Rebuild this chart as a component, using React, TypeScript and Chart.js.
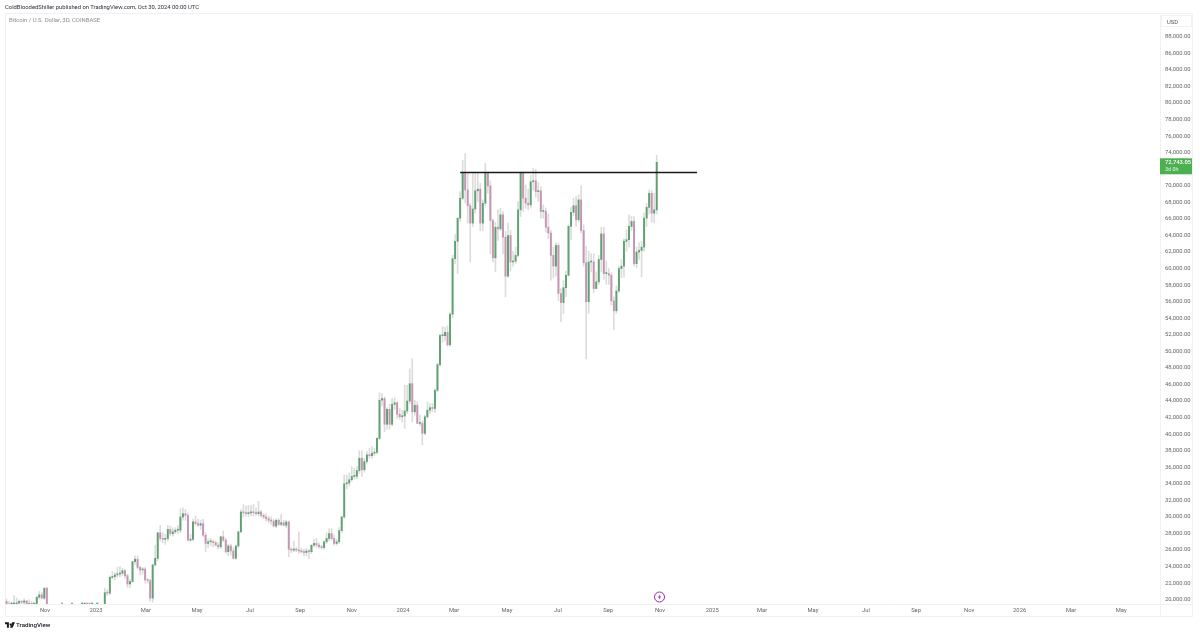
import React, { useEffect, useRef } from "react";
import { Chart, registerables } from "chart.js";

Chart.register(...registerables);

// 3D candles, prices in thousands of USD
const opens = [
  19.4, 19.7, 19.4, 19.2, 19.3, 19.4, 19.5, 19.7, 19.6, 19.75,
  19.3, 19.45, 19.2, 19.3, 20.2, 20.5, 20.1, 21.3, 18.2, 16.8,
  16.6, 16.4, 16.2, 16.5, 16.4, 17.1, 16.9, 17.2, 17.1, 17.8,
  17.3, 16.7, 16.8, 16.8, 16.7, 16.6, 16.6, 16.9, 17.0, 17.9,
  19.0, 20.75, 20.7, 22.6, 22.7, 22.9, 23.0, 23.1, 23.4, 22.8,
  21.8, 22.1, 24.5, 24.8, 23.8, 23.5, 23.6, 22.3, 22.2, 20.1,
  24.1, 24.9, 28.0, 27.3, 27.2, 27.3, 28.4, 27.9, 28.1, 28.3,
  28.3, 29.9, 30.3, 30.1, 27.1, 27.2, 29.3, 29.1, 28.9, 29.1,
  27.7, 26.7, 26.9, 26.9, 26.8, 26.5, 26.3, 27.5, 27.1, 25.7,
  26.4, 25.8, 24.9, 26.4, 28.1, 30.5, 30.4, 30.3, 30.4, 30.5,
  30.4, 30.3, 30.5, 30.1, 29.9, 29.7, 29.5, 29.4, 28.8, 29.5,
  29.0, 29.2, 28.9, 29.3, 26.0, 25.9, 26.0, 25.9, 25.8, 25.7,
  25.6, 25.8, 25.7, 26.5, 26.7, 26.5, 26.3, 26.2, 26.9, 27.3,
  27.9, 27.3, 26.7, 26.9, 28.25, 29.9, 33.9, 34.0, 34.4, 34.8,
  34.8, 35.5, 37.0, 35.6, 36.6, 37.4, 37.3, 37.6, 37.7, 39.4,
  44.0, 44.2, 41.1, 42.9, 41.1, 43.5, 43.7, 42.3, 42.0, 42.1,
  42.7, 43.9, 46.0, 42.6, 43.4, 41.2, 41.2, 40.0, 42.0, 42.8,
  43.1, 43.0, 45.2, 48.3, 51.8, 51.8, 52.2, 50.7, 54.4, 61.1,
  63.2, 66.0, 68.4, 71.4, 69.4, 67.5, 65.4, 67.1, 69.3, 69.5,
  65.4, 67.8, 71.4, 69.9, 65.7, 61.2, 64.9, 64.7, 66.4, 63.7,
  59.0, 63.9, 60.7, 60.8, 61.5, 67.0, 71.4, 68.4, 67.8, 67.6,
  70.4, 70.5, 69.2, 69.3, 66.8, 66.8, 64.9, 64.2, 61.5, 60.2,
  62.7, 56.9, 55.8, 57.6, 59.1, 65.0, 66.7, 67.5, 65.8, 68.2,
  64.5, 60.6, 55.9, 60.7, 60.7, 57.5, 58.3, 61.0, 64.1, 59.3,
  59.3, 59.1, 56.0, 54.8, 57.2, 59.9, 60.2, 63.2, 63.4, 65.0,
  65.6, 60.5, 61.9, 62.1, 62.5, 66.0, 67.3, 69.0, 66.6, 67.0,
];
const highs = [
  20.2, 20.0, 19.7, 19.6, 20.4, 20.1, 19.9, 19.8, 20.0, 19.8,
  19.9, 19.7, 19.5, 20.3, 20.9, 20.8, 21.3, 21.4, 18.3, 17.1,
  16.8, 16.6, 16.6, 16.7, 17.2, 17.2, 17.4, 17.4, 18.0, 17.9,
  17.5, 17.0, 16.9, 16.9, 16.8, 16.7, 17.0, 17.0, 18.1, 19.2,
  21.3, 21.1, 22.8, 23.3, 23.2, 23.8, 23.9, 23.7, 23.6, 23.0,
  22.4, 24.5, 25.2, 25.2, 24.0, 23.8, 23.8, 22.5, 22.4, 24.2,
  26.5, 28.0, 28.9, 28.0, 27.8, 28.9, 28.8, 28.6, 28.6, 28.9,
  30.9, 31.0, 30.8, 30.4, 27.8, 29.6, 30.0, 29.6, 29.5, 29.6,
  28.0, 27.2, 27.3, 27.1, 27.0, 26.8, 27.6, 28.2, 27.3, 26.6,
  26.6, 26.2, 26.5, 28.2, 30.8, 31.4, 31.2, 31.3, 31.3, 31.4,
  31.0, 31.8, 30.7, 30.3, 30.3, 30.0, 29.9, 29.6, 29.7, 29.7,
  30.2, 29.5, 29.5, 29.4, 26.2, 27.0, 26.2, 28.1, 26.1, 26.0,
  26.1, 26.0, 26.5, 27.2, 27.3, 26.8, 26.5, 27.0, 28.0, 28.5,
  28.5, 27.7, 27.2, 28.6, 30.0, 35.0, 35.0, 35.2, 36.0, 35.8,
  36.0, 37.9, 37.9, 37.0, 37.8, 38.2, 38.4, 38.2, 39.5, 44.9,
  44.8, 44.4, 43.1, 43.5, 44.2, 44.3, 43.8, 43.0, 42.8, 45.8,
  45.8, 47.8, 49.0, 44.0, 43.8, 42.2, 41.5, 42.2, 43.8, 43.6,
  43.6, 45.4, 48.5, 52.0, 52.9, 52.8, 53.0, 54.6, 61.5, 64.0,
  66.0, 69.2, 73.0, 73.8, 71.4, 67.8, 71.4, 71.4, 71.4, 70.2,
  68.2, 72.6, 71.6, 70.5, 65.9, 65.5, 67.0, 67.2, 66.8, 64.4,
  65.4, 64.5, 62.0, 62.5, 68.0, 71.6, 71.6, 70.0, 69.5, 71.2,
  72.0, 71.9, 70.3, 69.8, 67.6, 67.2, 66.5, 64.5, 62.5, 63.0,
  63.0, 57.5, 58.5, 59.6, 65.2, 67.3, 68.4, 68.6, 68.8, 69.9,
  65.2, 62.6, 62.0, 61.7, 61.7, 59.5, 61.5, 64.9, 64.9, 60.8,
  59.9, 59.4, 56.5, 57.8, 60.2, 61.0, 63.5, 64.6, 66.4, 66.2,
  66.2, 62.5, 63.0, 63.2, 66.6, 67.8, 69.4, 69.3, 69.0, 73.6,
];
const lows = [
  19.0, 19.1, 18.9, 18.6, 19.0, 19.2, 19.1, 19.3, 19.2, 19.2,
  19.1, 19.0, 18.9, 19.2, 20.0, 20.0, 19.9, 18.0, 15.9, 16.3,
  16.2, 15.9, 15.6, 16.3, 16.3, 16.8, 16.8, 16.9, 17.0, 17.2,
  16.5, 16.5, 16.7, 16.5, 16.5, 16.5, 16.5, 16.7, 17.0, 17.8,
  18.9, 20.4, 20.5, 22.4, 22.3, 22.6, 22.7, 22.8, 22.5, 21.4,
  21.4, 22.0, 24.2, 23.6, 22.9, 23.0, 21.9, 21.9, 19.7, 19.6,
  24.0, 24.6, 27.0, 26.8, 26.6, 27.0, 27.6, 27.6, 27.9, 27.9,
  28.0, 29.5, 29.5, 27.0, 26.9, 27.0, 28.9, 28.8, 28.4, 27.5,
  25.7, 26.2, 26.4, 26.3, 26.4, 26.0, 26.1, 26.9, 25.5, 25.2,
  25.3, 24.8, 24.8, 26.2, 28.0, 29.9, 30.0, 29.9, 30.0, 30.0,
  30.1, 30.0, 29.9, 29.7, 29.4, 29.2, 29.0, 28.7, 28.6, 28.9,
  28.8, 28.8, 28.6, 25.1, 25.6, 25.7, 25.7, 25.5, 25.5, 25.2,
  25.2, 24.9, 25.5, 26.3, 26.2, 26.1, 26.0, 26.0, 26.7, 27.0,
  27.1, 26.5, 26.5, 26.7, 28.0, 29.7, 33.3, 33.6, 34.2, 34.5,
  34.5, 35.2, 34.8, 35.3, 36.3, 37.0, 37.0, 37.3, 37.5, 39.2,
  43.3, 40.2, 40.5, 40.5, 40.9, 42.9, 41.8, 41.7, 41.4, 40.6,
  42.4, 43.6, 41.4, 42.2, 41.2, 40.9, 38.6, 39.8, 41.8, 42.4,
  42.6, 42.5, 45.0, 48.1, 51.0, 51.2, 50.5, 50.5, 54.0, 60.5,
  59.3, 65.6, 68.2, 67.8, 65.4, 60.7, 65.0, 66.6, 68.0, 64.5,
  64.5, 67.5, 69.0, 61.7, 60.7, 59.5, 63.3, 64.5, 61.7, 56.5,
  58.8, 59.6, 60.2, 60.5, 61.3, 66.2, 66.8, 67.2, 67.0, 67.2,
  69.4, 68.5, 68.0, 66.0, 66.0, 64.3, 63.5, 58.5, 58.8, 59.0,
  56.0, 53.5, 54.5, 56.5, 59.0, 63.4, 66.3, 65.0, 65.5, 64.2,
  60.2, 49.0, 54.5, 59.5, 57.0, 57.5, 58.0, 59.5, 58.6, 58.0,
  58.0, 55.5, 52.5, 54.5, 57.0, 58.8, 58.9, 62.0, 62.5, 64.5,
  60.2, 60.0, 61.0, 58.9, 62.0, 65.0, 66.5, 65.5, 65.4, 66.5,
];
const closes = [
  19.7, 19.4, 19.2, 19.3, 19.4, 19.5, 19.7, 19.6, 19.75, 19.3,
  19.45, 19.2, 19.3, 20.2, 20.5, 20.1, 21.3, 18.2, 16.8, 16.6,
  16.4, 16.2, 16.5, 16.4, 17.1, 16.9, 17.2, 17.1, 17.8, 17.3,
  16.7, 16.8, 16.8, 16.7, 16.6, 16.6, 16.9, 17.0, 17.9, 19.0,
  20.75, 20.7, 22.6, 22.7, 22.9, 23.0, 23.1, 23.4, 22.8, 21.8,
  22.1, 24.5, 24.8, 23.8, 23.5, 23.6, 22.3, 22.2, 20.1, 24.1,
  24.9, 28.0, 27.3, 27.2, 27.3, 28.4, 27.9, 28.1, 28.3, 28.3,
  29.9, 30.3, 30.1, 27.1, 27.2, 29.3, 29.1, 28.9, 29.1, 27.7,
  26.7, 26.9, 26.9, 26.8, 26.5, 26.3, 27.5, 27.1, 25.7, 26.4,
  25.8, 24.9, 26.4, 28.1, 30.5, 30.4, 30.3, 30.4, 30.5, 30.4,
  30.3, 30.5, 30.1, 29.9, 29.7, 29.5, 29.4, 28.8, 29.5, 29.0,
  29.2, 28.9, 29.3, 26.0, 25.9, 26.0, 25.9, 25.8, 25.7, 25.6,
  25.8, 25.7, 26.5, 26.7, 26.5, 26.3, 26.2, 26.9, 27.3, 27.9,
  27.3, 26.7, 26.9, 28.25, 29.9, 33.9, 34.0, 34.4, 34.8, 34.8,
  35.5, 37.0, 35.6, 36.6, 37.4, 37.3, 37.6, 37.7, 39.4, 44.0,
  44.2, 41.1, 42.9, 41.1, 43.5, 43.7, 42.3, 42.0, 42.1, 42.7,
  43.9, 46.0, 42.6, 43.4, 41.2, 41.2, 40.0, 42.0, 42.8, 43.1,
  43.0, 45.2, 48.3, 51.8, 51.8, 52.2, 50.7, 54.4, 61.1, 63.2,
  66.0, 68.4, 71.4, 69.4, 67.5, 65.4, 67.1, 69.3, 69.5, 65.4,
  67.8, 71.4, 69.9, 65.7, 61.2, 64.9, 64.7, 66.4, 63.7, 59.0,
  63.9, 60.7, 60.8, 61.5, 67.0, 71.4, 68.4, 67.8, 67.6, 70.4,
  70.5, 69.2, 69.3, 66.8, 66.8, 64.9, 64.2, 61.5, 60.2, 62.7,
  56.9, 55.8, 57.6, 59.1, 65.0, 66.7, 67.5, 65.8, 68.2, 64.5,
  60.6, 55.9, 60.7, 60.7, 57.5, 58.3, 61.0, 64.1, 59.3, 59.3,
  59.1, 56.0, 54.8, 57.2, 59.9, 60.2, 63.2, 63.4, 65.0, 65.6,
  60.5, 61.9, 62.1, 62.5, 66.0, 67.3, 69.0, 66.6, 67.0, 72.74305,
];

// horizontal resistance line drawn on the chart
const lineBars = [181, 275];
const linePrice = [71.5, 71.5];

// x axis labels and the bar slot each one sits on
const timeLabels = ["Nov", "2023", "Mar", "May", "Jul", "Sep", "Nov", "2024", "Mar", "May", "Jul", "Sep", "Nov", "2025", "Mar", "May", "Jul", "Sep", "Nov", "2026", "Mar", "May"];
const timeBars = [16.3, 36.5, 56.3, 76.6, 97.6, 117.5, 138, 158.3, 178.6, 199.6, 219.8, 239.7, 260.3, 281, 300.8, 321, 342, 361.9, 383, 403, 423.4, 443.3];

const priceTicks = [20, 22, 24, 26, 28, 30, 32, 34, 36, 38, 40, 42, 44, 46, 48, 50, 52, 54, 56, 58, 60, 62, 64, 66, 68, 70, 72, 74, 76, 78, 80, 82, 84, 86, 88];

const UP = "#5fa173";
const DOWN = "#c795b2";
const WICK = "#dcdcdc";
const FRAME = "#f0f1f3";
const AXIS_FONT = "Roboto, sans-serif";

const fmtPrice = (k: number) =>
  (k * 1000).toLocaleString("en-US", { minimumFractionDigits: 2, maximumFractionDigits: 2 });

// frame lines around the panes and the last price tag on the axis
const panePlugin = {
  id: "panes",
  beforeDraw(chart: Chart) {
    const { ctx } = chart;
    ctx.save();
    ctx.strokeStyle = FRAME;
    ctx.lineWidth = 1;
    ctx.strokeRect(5.5, 13.5, 1187, 603);
    ctx.beginPath();
    ctx.moveTo(1160.5, 14);
    ctx.lineTo(1160.5, 617);
    ctx.moveTo(5, 604.5);
    ctx.lineTo(1192, 604.5);
    ctx.stroke();
    ctx.restore();
  },
  afterDraw(chart: Chart) {
    const { ctx } = chart;
    const last = closes[closes.length - 1];
    const y = chart.scales.y.getPixelForValue(last);
    ctx.save();
    ctx.fillStyle = "#4caf50";
    ctx.fillRect(1160, y - 4, 32, 16);
    ctx.fillStyle = "#ffffff";
    ctx.textBaseline = "middle";
    ctx.font = `500 5.8px ${AXIS_FONT}`;
    ctx.fillText(fmtPrice(last), 1165, y);
    ctx.font = `5.4px ${AXIS_FONT}`;
    ctx.fillStyle = "#e4f4e5";
    ctx.fillText("3d 0h", 1165, y + 7.5);
    ctx.restore();
  },
};

const textStyle: React.CSSProperties = {
  position: "absolute",
  whiteSpace: "nowrap",
  fontFamily: AXIS_FONT,
  lineHeight: "10px",
};

export default function App() {
  const canvasRef = useRef<HTMLCanvasElement>(null);

  useEffect(() => {
    document.body.style.margin = "0";
    if (!canvasRef.current) return;

    const chart = new Chart(canvasRef.current, {
      type: "bar",
      data: {
        datasets: [
          {
            type: "line",
            data: lineBars.map((x, i) => ({ x, y: linePrice[i] })),
            borderColor: "#1a1a1a",
            borderWidth: 1.5,
            pointRadius: 0,
            order: 0,
          },
          {
            data: closes.map((c, i) => ({ x: i, y: [opens[i], c] })),
            backgroundColor: closes.map((c, i) => (c >= opens[i] ? UP : DOWN)),
            barThickness: 1.3,
            minBarLength: 1,
            grouped: false,
            order: 1,
          },
          {
            data: highs.map((h, i) => ({ x: i, y: [lows[i], h] })),
            backgroundColor: WICK,
            barThickness: 1,
            grouped: false,
            order: 2,
          },
        ],
      } as any,
      options: {
        responsive: false,
        animation: false,
        layout: { padding: { left: 5, top: 13, right: 0, bottom: 17 } },
        plugins: {
          legend: { display: false },
          tooltip: { enabled: false },
        },
        scales: {
          x: {
            type: "linear",
            offset: false,
            min: 0.4,
            max: 458.7,
            grid: { display: false, drawTicks: false, offset: false },
            border: { display: false },
            afterBuildTicks: (scale: any) => {
              scale.ticks = timeBars.map((value) => ({ value }));
            },
            afterFit: (scale: any) => {
              scale.height = 13;
            },
            ticks: {
              autoSkip: false,
              maxRotation: 0,
              padding: 3,
              color: "#62656c",
              font: { size: 5.8, family: AXIS_FONT },
              callback: (value: any) => timeLabels[timeBars.indexOf(value)],
            },
          },
          y: {
            type: "linear",
            position: "right",
            min: 19.386,
            max: 90.778,
            grid: { display: false, drawTicks: false },
            border: { display: false },
            afterBuildTicks: (scale: any) => {
              scale.ticks = priceTicks.map((value) => ({ value }));
            },
            afterFit: (scale: any) => {
              scale.width = 40;
            },
            ticks: {
              padding: 5,
              labelOffset: 0.8,
              color: "#62656c",
              font: { size: 5.8, family: AXIS_FONT },
              callback: (value: any) => fmtPrice(value),
            },
          },
        },
      },
      plugins: [panePlugin],
    } as any);

    return () => {
      chart.destroy();
    };
  }, []);

  return (
    <div style={{ position: "relative", width: 1200, height: 634, background: "#ffffff", overflow: "hidden" }}>
      <canvas ref={canvasRef} width={1200} height={634} style={{ display: "block" }} />
      <div style={{ ...textStyle, left: 5, top: 2, fontSize: 5.85, color: "#2a2e39" }}>
        ColdBloodedShiller published on TradingView.com, Oct 30, 2024 00:00 UTC
      </div>
      <div style={{ ...textStyle, left: 9, top: 15, fontSize: 5.95, color: "#8a8d94" }}>
        Bitcoin / U.S. Dollar, 3D, COINBASE
      </div>
      <div
        style={{
          ...textStyle,
          left: 1161,
          top: 15,
          width: 31,
          height: 12,
          lineHeight: "12px",
          boxSizing: "border-box",
          paddingLeft: 5,
          fontSize: 5.8,
          color: "#50535e",
          border: `1px solid ${FRAME}`,
        }}
      >
        USD
      </div>
      <svg style={{ position: "absolute", left: 653, top: 591 }} width={13} height={13} viewBox="0 0 13 13">
        <circle cx={6.5} cy={6} r={5} fill="#ffffff" stroke="#9c27b0" strokeWidth={1} />
        <path d="M7.3 3 L4.9 6.4 H6.4 L5.7 9 L8.1 5.6 H6.6 Z" fill="#9c27b0" />
      </svg>
      <svg style={{ position: "absolute", left: 5, top: 622 }} width={10} height={6} viewBox="0 0 36 20">
        <path d="M0 0 H14 V20 H7 V7 H0 Z M20 5 a3.5 3.5 0 1 0 0.01 0 M26 0 H36 L27 20 H18 Z" fill="#131722" />
      </svg>
      <div style={{ ...textStyle, left: 16, top: 620, fontSize: 6.2, fontWeight: 500, color: "#131722" }}>
        TradingView
      </div>
    </div>
  );
}
